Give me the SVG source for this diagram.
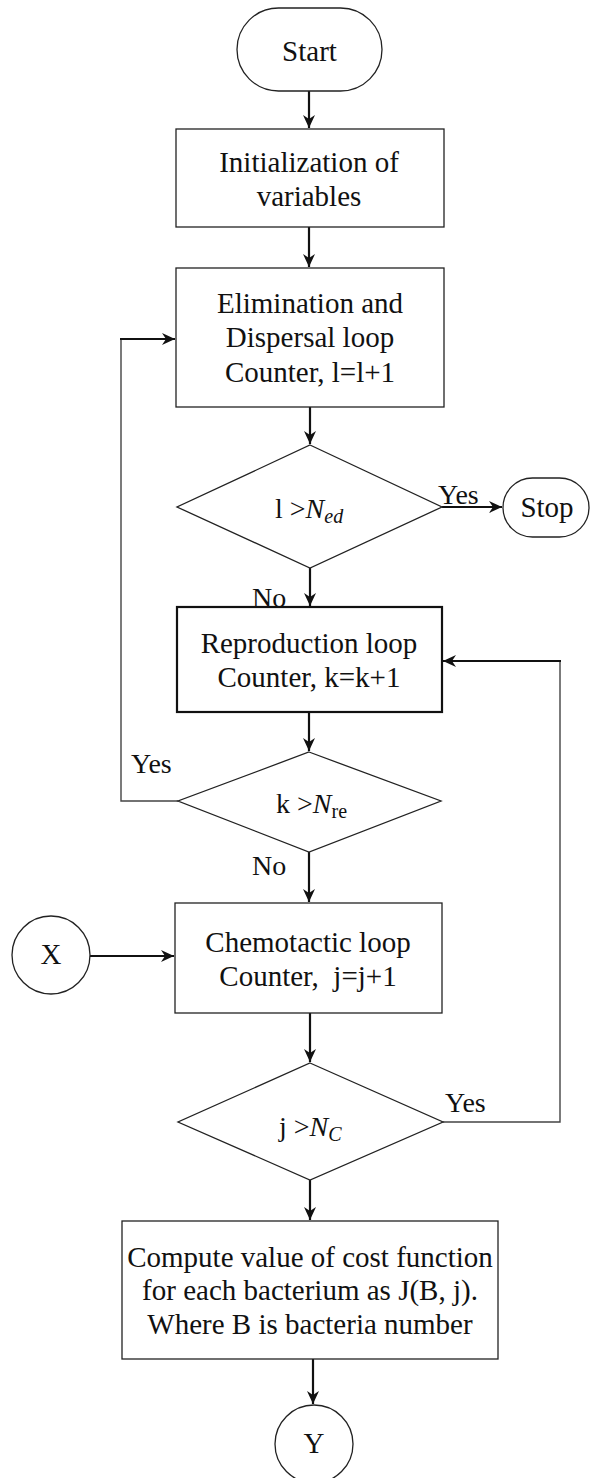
<svg xmlns="http://www.w3.org/2000/svg" width="591" height="1478" viewBox="0 0 591 1478">
<style>
.box{fill:#fff;stroke:#222;stroke-width:1.3}
.thick{fill:#fff;stroke:#111;stroke-width:2.2}
.t{font-family:"Liberation Serif","Times New Roman",serif;font-size:29px;fill:#111;text-anchor:middle}
.l{font-family:"Liberation Serif","Times New Roman",serif;font-size:28px;fill:#111}
.m{font-style:italic}
.c{fill:none;stroke:#111;stroke-width:2.2}
.thin{fill:none;stroke:#444;stroke-width:1.4}
</style>
<defs>
<marker id="ah" markerUnits="userSpaceOnUse" markerWidth="14" markerHeight="12" refX="13" refY="6" orient="auto">
<path d="M0,0 L13,6 L0,12 L4,6 Z" fill="#111"/>
</marker>
</defs>
<g id="connectors">
<line class="c" x1="309" y1="91" x2="309" y2="128" marker-end="url(#ah)"/>
<line class="c" x1="309" y1="227" x2="309" y2="267" marker-end="url(#ah)"/>
<line class="c" x1="310" y1="407" x2="310" y2="444" marker-end="url(#ah)"/>
<line class="c" x1="442" y1="507" x2="502" y2="507" marker-end="url(#ah)"/>
<line class="c" x1="310" y1="568" x2="310" y2="606" marker-end="url(#ah)"/>
<line class="c" x1="309" y1="712" x2="309" y2="751" marker-end="url(#ah)"/>
<polyline class="thin" points="178,801 121,801 121,339"/>
<line class="c" x1="120" y1="339" x2="175" y2="339" marker-end="url(#ah)"/>
<line class="c" x1="309" y1="852" x2="309" y2="902" marker-end="url(#ah)"/>
<line class="c" x1="90" y1="956" x2="174" y2="956" marker-end="url(#ah)"/>
<line class="c" x1="310" y1="1013" x2="310" y2="1062" marker-end="url(#ah)"/>
<polyline class="thin" points="443,1122 560,1122 560,661"/>
<line class="c" x1="561" y1="661" x2="443" y2="661" marker-end="url(#ah)"/>
<line class="c" x1="310" y1="1180" x2="310" y2="1220" marker-end="url(#ah)"/>
<line class="c" x1="313" y1="1359" x2="313" y2="1404" marker-end="url(#ah)"/>
<text class="l" x="438" y="504">Yes</text>
<text class="l" x="252" y="607">No</text>
<text class="l" x="131" y="773">Yes</text>
<text class="l" x="252" y="875">No</text>
<text class="l" x="445" y="1112">Yes</text>
</g>
<g id="start">
<rect class="box" x="237" y="8" width="145" height="83" rx="41.5"/>
<text class="t" x="309.5" y="61">Start</text>
</g>
<g id="init">
<rect class="box" x="176" y="129" width="268" height="98"/>
<text class="t" x="309" y="172">Initialization of</text>
<text class="t" x="309" y="206">variables</text>
</g>
<g id="elim">
<rect class="box" x="176" y="268" width="268" height="139"/>
<text class="t" x="310" y="313">Elimination and</text>
<text class="t" x="310" y="347">Dispersal loop</text>
<text class="t" x="310" y="382">Counter, l=l+1</text>
</g>
<g id="dec1">
<polygon class="box" points="310,445 442,507 310,568 177,507"/>
<text class="l" x="275" y="518">l &gt;<tspan class="m">N</tspan><tspan class="m" font-size="20" dy="5">ed</tspan></text>
</g>
<g id="stop">
<rect class="box" x="503" y="478" width="86" height="59" rx="29.5"/>
<text class="t" x="547" y="517">Stop</text>
</g>
<g id="repro">
<rect class="thick" x="177" y="607" width="265" height="105"/>
<text class="t" x="309" y="653">Reproduction loop</text>
<text class="t" x="309" y="687">Counter, k=k+1</text>
</g>
<g id="dec2">
<polygon class="box" points="309,752 441,801 309,852 178,801"/>
<text class="l" x="276" y="813">k &gt;<tspan class="m">N</tspan><tspan font-size="20" dy="5">re</tspan></text>
</g>
<g id="x">
<circle class="box" cx="51" cy="955" r="39"/>
<text class="t" x="51" y="964">X</text>
</g>
<g id="chemo">
<rect class="box" x="175" y="903" width="267" height="110"/>
<text class="t" x="308" y="952">Chemotactic loop</text>
<text class="t" x="308" y="986" xml:space="preserve">Counter,  j=j+1</text>
</g>
<g id="dec3">
<polygon class="box" points="310,1063 443,1122 310,1180 178,1122"/>
<text class="l" x="279" y="1136">j &gt;<tspan class="m">N</tspan><tspan class="m" font-size="20" dy="5">C</tspan></text>
</g>
<g id="compute">
<rect class="box" x="122" y="1221" width="376" height="138"/>
<text class="t" x="310" y="1267">Compute value of cost function</text>
<text class="t" x="310" y="1300">for each bacterium as J(B, j).</text>
<text class="t" x="310" y="1334">Where B is bacteria number</text>
</g>
<g id="y">
<circle class="box" cx="314" cy="1444" r="39"/>
<text class="t" x="314" y="1453">Y</text>
</g>
</svg>
